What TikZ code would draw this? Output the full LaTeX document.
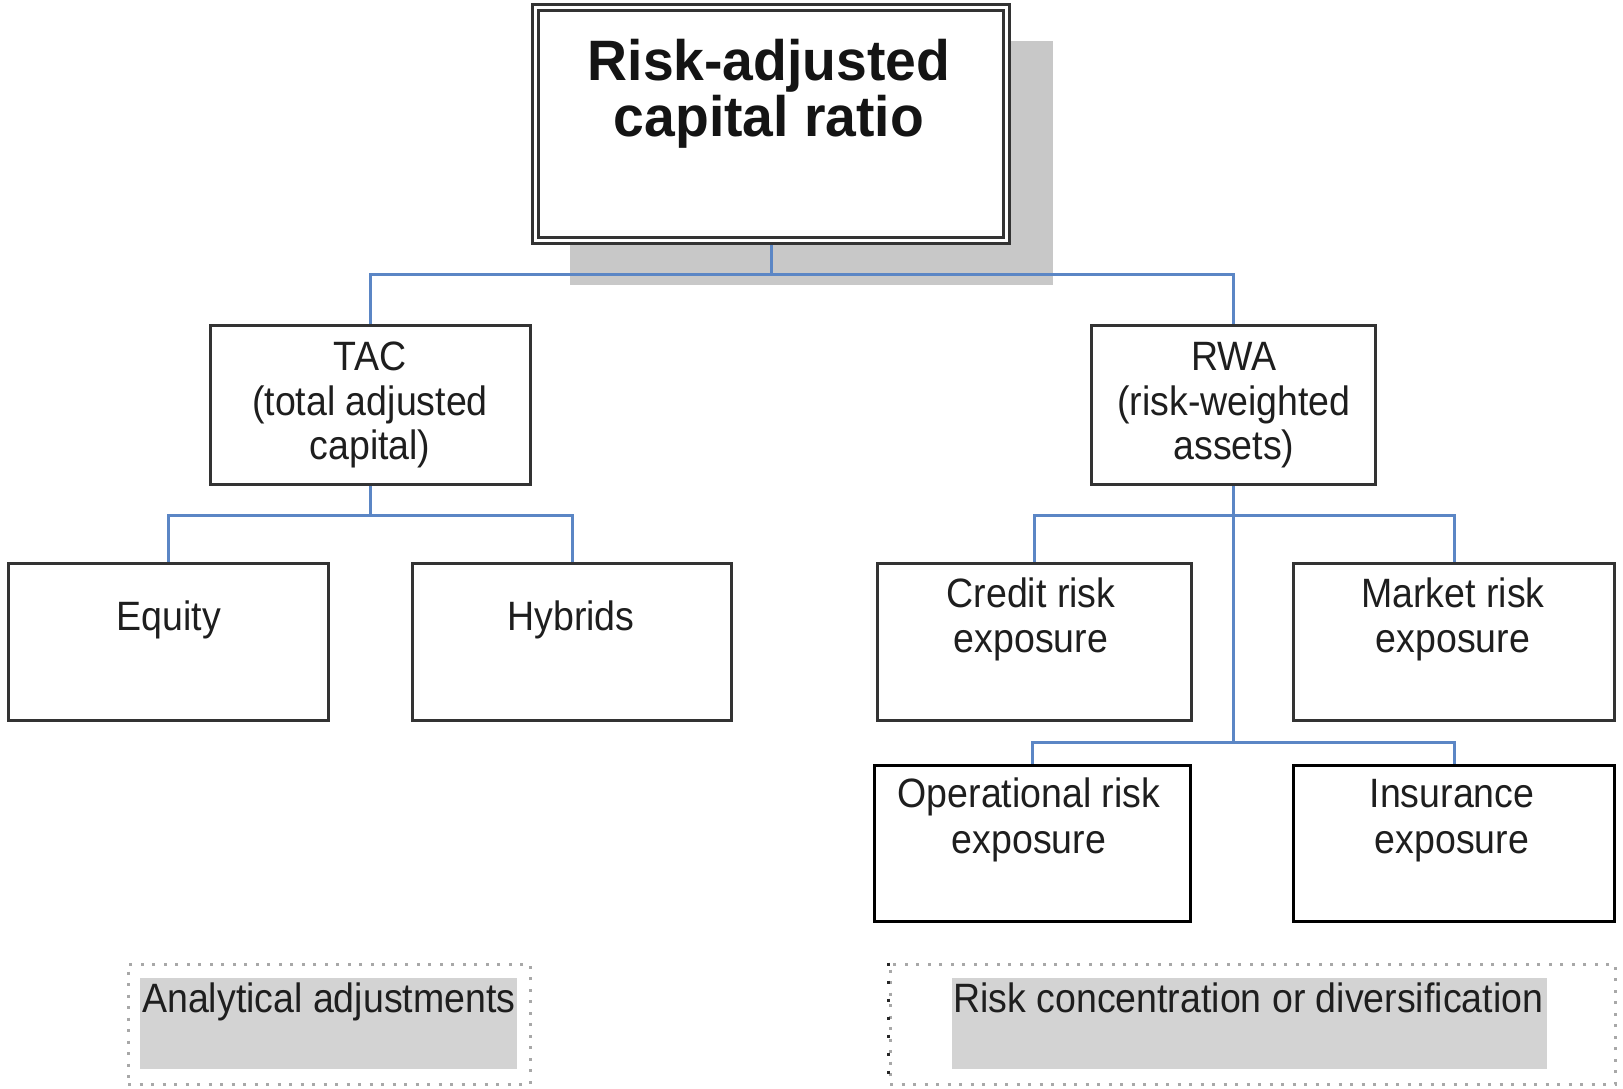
\documentclass[tikz,border=0pt]{standalone}
\usepackage{fontspec}
\setmainfont{Liberation Sans}[FakeStretch=0.915]
\newfontfamily\titlefont{Liberation Sans}[FakeStretch=0.97]
\definecolor{connc}{HTML}{5B86C5}
\definecolor{boxc}{HTML}{333333}
\definecolor{shadowc}{HTML}{C8C8C8}
\definecolor{grayfill}{HTML}{D3D3D3}
\definecolor{dotc}{HTML}{A8A8A8}
\definecolor{txtc}{HTML}{1E1E1E}
\pgfdeclarelayer{back}
\pgfdeclarelayer{bg}
\pgfsetlayers{back,bg,main}
\begin{document}
\begin{tikzpicture}[x=1pt,y=-1pt,
  box/.style={draw=boxc, line width=3pt, fill=white, inner sep=0pt},
  titlebox/.style={draw=boxc, line width=3pt, double=white, double distance=3.5pt, fill=white, inner sep=0pt, minimum width=471pt, minimum height=233pt},
  txt/.style={font=\fontsize{41}{45}\selectfont, inner sep=0pt, anchor=base, text=txtc},
  ltxt/.style={font=\fontsize{41}{45}\selectfont, inner sep=0pt, anchor=base west, text=txtc},
  ttxt/.style={font=\titlefont\bfseries\fontsize{57}{56}\selectfont, inner sep=0pt, anchor=base, text=black!92},
  conn/.style={draw=connc, line width=3pt},
  grayrect/.style={fill=grayfill, draw=none, inner sep=0pt},
  dotbox/.style={draw=dotc, line width=3pt, dash pattern=on 3pt off 8.5pt, inner sep=0pt, minimum height=120pt}
]
\begin{pgfonlayer}{back}
\useasboundingbox[fill=white] (0,0) rectangle (1623,1088);
\end{pgfonlayer}

% title
\node[titlebox] (title) at (771,124) {};
\node[ttxt] (t1) at (769,80) {Risk-adjusted};
\node[ttxt] (t2) at (769,136) {capital ratio};

% second level
\node[box, minimum width=320pt, minimum height=159pt] (tac) at (370.5,405) {};
\node[txt] (tac1) at (370,370) {TAC};
\node[txt] (tac2) at (370,415) {(total adjusted};
\node[txt] (tac3) at (370,459) {capital)};

\node[box, minimum width=284pt, minimum height=159pt] (rwa) at (1233.5,405) {};
\node[txt] (rwa1) at (1234,370) {RWA};
\node[txt] (rwa2) at (1234,415) {(risk-weighted};
\node[txt] (rwa3) at (1234,459) {assets)};

% third level
\node[box, minimum width=320pt, minimum height=157pt] (equity) at (168.5,642) {};
\node[txt] (eq1) at (169,630) {Equity};
\node[box, minimum width=319pt, minimum height=157pt] (hybrids) at (572,642) {};
\node[txt] (hy1) at (571,630) {Hybrids};

\node[box, minimum width=314pt, minimum height=157pt] (credit) at (1034.5,642) {};
\node[txt] (cr1) at (1031,607) {Credit risk};
\node[txt] (cr2) at (1031,652) {exposure};
\node[box, minimum width=321pt, minimum height=157pt] (market) at (1454,642) {};
\node[txt] (mk1) at (1453,607) {Market risk};
\node[txt] (mk2) at (1453,652) {exposure};

\node[box, draw=black, minimum width=316pt, minimum height=156pt] (oper) at (1032.5,843.5) {};
\node[txt] (op1) at (1029,807) {Operational risk};
\node[txt] (op2) at (1029,853) {exposure};
\node[box, draw=black, minimum width=321pt, minimum height=156pt] (insur) at (1454,843.5) {};
\node[txt] (in1) at (1452,807) {Insurance};
\node[txt] (in2) at (1452,853) {exposure};

% bottom dotted boxes
\node[dotbox, minimum width=402pt] (lbox) at (329,1024) {};
\node[grayrect, minimum width=377pt, minimum height=91pt] (lgray) at (328.5,1023.5) {};
\node[ltxt] (ltext) at (142,1012) {Analytical adjustments};

\node[dotbox, minimum width=725pt] (rbox) at (1252.5,1024) {};
\node[grayrect, minimum width=595pt, minimum height=91pt] (rgray) at (1249.5,1023.5) {};
\node[ltxt] (rtext) at (953,1012) {Risk concentration or diversification};
\draw[draw=black!85, line width=3pt, dash pattern=on 3pt off 15pt] (rbox.north west) -- (rbox.south west);

% background: shadow and connectors
\begin{pgfonlayer}{bg}
\fill[shadowc] (570,41) rectangle (1053,285);
\coordinate (j0) at (771,274);
\coordinate (j1) at (370.5,515);
\coordinate (j2) at (1233.5,515);
\coordinate (j3) at (1233.5,742);
\draw[conn] (title.south) -- (j0);
\draw[conn] (tac.north) |- (j0) -| (rwa.north);
\draw[conn] (tac.south) -- (j1);
\draw[conn] (equity.north) |- (j1) -| (hybrids.north);
\draw[conn] (credit.north) |- (j2) -| (market.north);
\draw[conn] (rwa.south) -- (j3);
\draw[conn] (oper.north) |- (j3) -| (insur.north);
\end{pgfonlayer}
\end{tikzpicture}
\end{document}
